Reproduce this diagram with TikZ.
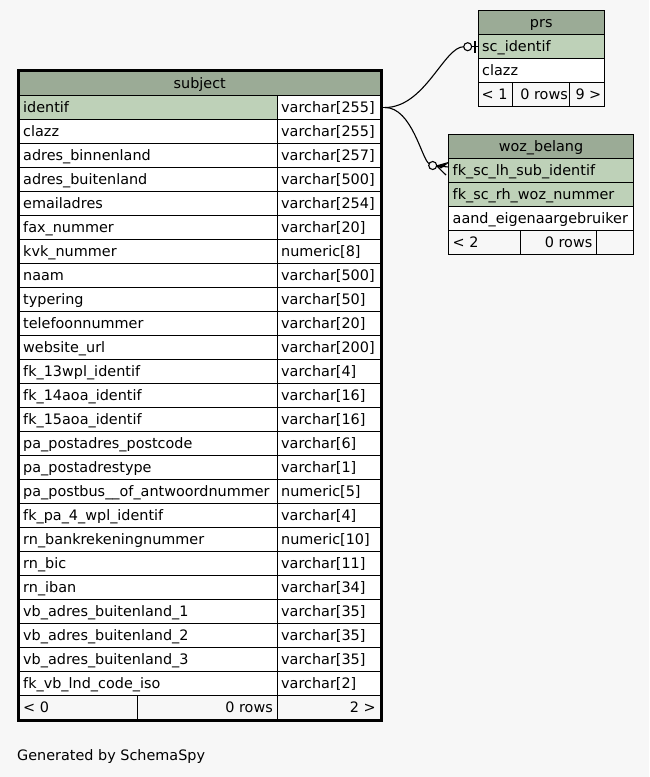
\documentclass[tikz,border=0pt]{standalone}
\usepackage{fontspec}
\setmainfont{DejaVu Sans}
\usetikzlibrary{calc}
\definecolor{bg}{HTML}{F7F7F7}
\definecolor{hdr}{HTML}{9BAB96}
\definecolor{keyc}{HTML}{BED1B8}
\begin{document}
\begin{tikzpicture}[x=1pt,y=-1pt,
  cellbox/.style={draw=black, line width=1pt},
  plain/.style={font=\fontsize{14.4}{16}\selectfont, inner sep=0pt},
  txt/.style={plain, text height=12.8pt, text depth=2pt},
  edge/.style={draw=black, line width=1.1pt},
]
\useasboundingbox (0,0) rectangle (649,777);
\fill[bg] (0,0) rectangle (649,777);

% ---------------- subject ----------------
\def\sx{19.5}\def\sm{277}\def\sr{380}\def\sf{137}
\draw[cellbox, fill=hdr] (\sx,71.5) rectangle (\sr,95.5);
\node[txt] (subj-h) at ({(\sx+\sr)/2},83.5) {subject};
\foreach \nm/\ty [count=\i from 0] in {
  identif/varchar[255], clazz/varchar[255], adres\_binnenland/varchar[257],
  adres\_buitenland/varchar[500], emailadres/varchar[254], fax\_nummer/varchar[20],
  kvk\_nummer/numeric[8], naam/varchar[500], typering/varchar[50],
  telefoonnummer/varchar[20], website\_url/varchar[200], fk\_13wpl\_identif/varchar[4],
  fk\_14aoa\_identif/varchar[16], fk\_15aoa\_identif/varchar[16],
  pa\_postadres\_postcode/varchar[6], pa\_postadrestype/varchar[1],
  pa\_postbus\_\_of\_antwoordnummer/numeric[5], fk\_pa\_4\_wpl\_identif/varchar[4],
  rn\_bankrekeningnummer/numeric[10], rn\_bic/varchar[11], rn\_iban/varchar[34],
  vb\_adres\_buitenland\_1/varchar[35], vb\_adres\_buitenland\_2/varchar[35],
  vb\_adres\_buitenland\_3/varchar[35], fk\_vb\_lnd\_code\_iso/varchar[2]} {
  \pgfmathsetmacro\yt{95.5+24*\i}
  \pgfmathsetmacro\yb{\yt+24}
  \pgfmathsetmacro\yc{\yt+12}
  \ifnum\i=0 \def\fc{keyc}\else\def\fc{white}\fi
  \draw[cellbox, fill=\fc] (\sx,\yt) rectangle (\sm,\yb);
  \draw[cellbox, fill=white] (\sm,\yt) rectangle (\sr,\yb);
  \node[txt, anchor=west] (subj-n\i) at (\sx+3.5,\yc) {\nm};
  \node[txt, anchor=west] (subj-t\i) at (\sm+4,\yc) {\ty};
}
\draw[cellbox, fill=bg] (\sx,695.5) rectangle (\sf,719.5);
\draw[cellbox, fill=bg] (\sf,695.5) rectangle (\sm,719.5);
\draw[cellbox, fill=bg] (\sm,695.5) rectangle (\sr,719.5);
\node[txt, anchor=west] (subj-f1) at (\sx+3.5,707.5) {< 0};
\node[txt, anchor=east] (subj-f2) at (\sm-4,707.5) {0 rows};
\node[txt, anchor=east] (subj-f3) at (\sr-4,707.5) {2 >};
\draw[line width=2.6pt] (18.3,70.3) rectangle (381.3,720.8);

% ---------------- prs ----------------
\def\px{478}\def\pr{604.5}
\draw[cellbox, fill=hdr] (\px,10.5) rectangle (\pr,34.5);
\node[txt] (prs-h) at ({(\px+\pr)/2},22.5) {prs};
\draw[cellbox, fill=keyc] (\px,34.5) rectangle (\pr,58.5);
\node[txt, anchor=west] (prs-sc) at (\px+4,46.5) {sc\_identif};
\draw[cellbox, fill=white] (\px,58.5) rectangle (\pr,82.5);
\node[txt, anchor=west] (prs-cl) at (\px+4,70.5) {clazz};
\draw[cellbox, fill=bg] (\px,82.5) rectangle (512.5,106.5);
\draw[cellbox, fill=bg] (512.5,82.5) rectangle (569.5,106.5);
\draw[cellbox, fill=bg] (569.5,82.5) rectangle (\pr,106.5);
\node[txt, anchor=west] (prs-f1) at (\px+3.5,94.5) {< 1};
\node[txt, anchor=east] (prs-f2) at (568,94.5) {0 rows};
\node[txt, anchor=east] (prs-f3) at (\pr-3,94.5) {9 >};

% ---------------- woz_belang ----------------
\def\wx{448.5}\def\wr{633.5}
\draw[cellbox, fill=hdr] (\wx,134.5) rectangle (\wr,158.5);
\node[txt] (woz-h) at ({(\wx+\wr)/2},146.5) {woz\_belang};
\draw[cellbox, fill=keyc] (\wx,158.5) rectangle (\wr,182.5);
\node[txt, anchor=west] (woz-r1) at (\wx+4,170.5) {fk\_sc\_lh\_sub\_identif};
\draw[cellbox, fill=keyc] (\wx,182.5) rectangle (\wr,206.5);
\node[txt, anchor=west] (woz-r2) at (\wx+4,194.5) {fk\_sc\_rh\_woz\_nummer};
\draw[cellbox, fill=white] (\wx,206.5) rectangle (\wr,230.5);
\node[txt, anchor=west] (woz-r3) at (\wx+4,218.5) {aand\_eigenaargebruiker};
\draw[cellbox, fill=bg] (\wx,230.5) rectangle (520.5,254.5);
\draw[cellbox, fill=bg] (520.5,230.5) rectangle (596.5,254.5);
\draw[cellbox, fill=bg] (596.5,230.5) rectangle (\wr,254.5);
\node[txt, anchor=west] (woz-f1) at (\wx+4,242.5) {< 2};
\node[txt, anchor=east] (woz-f2) at (592.5,242.5) {0 rows};

% ---------------- connectors ----------------
\coordinate (src) at (381.5,107.5);
\coordinate (srcb) at (385,107.5);
\coordinate (c1) at (467.7,46.7);
\coordinate (c2) at (432.7,165.5);
\coordinate (prsin) at (478,46.7);
\coordinate (wozin) at (448.5,167);

\draw[edge] (src) -- (srcb);
\draw[edge] (srcb) .. controls (425,107.5) and (444,46.7) .. ($(c1)+(-4,0)$);
\draw[edge] (c1) circle[radius=4];
\draw[edge] ($(c1)+(4,0)$) -- (prsin);
\draw[line width=2.6pt] (475,41) -- (475,53);

\draw[edge] (srcb) .. controls (412,107.5) and (422,160) .. ($(c2)+(-3.6,-1.8)$);
\draw[edge] (c2) circle[radius=4];
\draw[edge] ($(c2)+(4,0.4)$) -- (wozin);
\draw[edge] ($(c2)+(4,0.4)$) -- (448.5,162.5);
\draw[edge] ($(c2)+(4,0.4)$) -- (446,175);
\fill ($(c2)+(4,0.4)$) -- (448.5,163) -- (441,168.5) -- cycle;

\node[plain, anchor=base west] (gen) at (17,760.5) {Generated by SchemaSpy};
\end{tikzpicture}
\end{document}
